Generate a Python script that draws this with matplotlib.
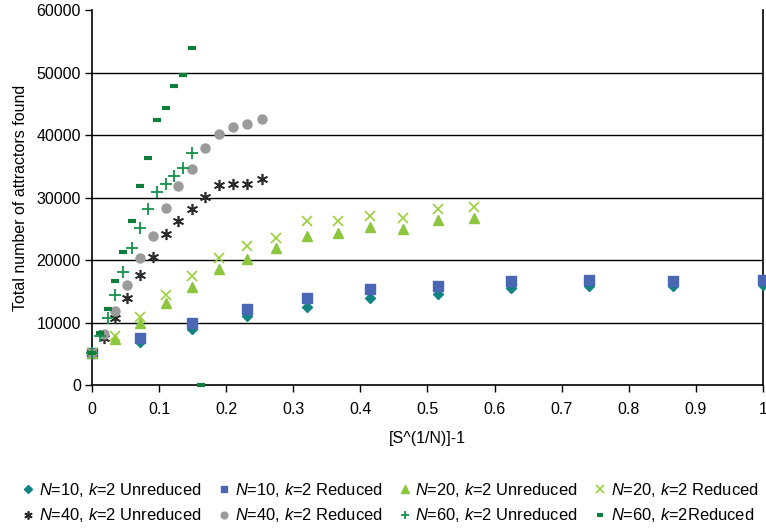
import matplotlib
matplotlib.use("Agg")
import matplotlib.pyplot as plt

plt.rcParams['font.family'] = ['Liberation Sans', 'DejaVu Sans']
plt.rcParams['mathtext.fontset'] = 'custom'
plt.rcParams['mathtext.rm'] = 'Liberation Sans'
plt.rcParams['mathtext.it'] = 'Liberation Sans:italic'

# --- data ---
x_n10 = [0, 0.072, 0.149, 0.231, 0.320, 0.414, 0.516, 0.625, 0.741, 0.866, 1.0]
n10_unred = [5100, 6900, 9000, 11000, 12500, 14000, 14600, 15500, 15800, 15800, 16000]
n10_red = [5100, 7500, 10000, 12200, 13900, 15400, 15800, 16600, 16800, 16600, 16800]

x_n20 = [0, 0.035, 0.072, 0.110, 0.149, 0.189, 0.231, 0.275, 0.320, 0.366,
         0.414, 0.464, 0.516, 0.569]
n20_unred = [5100, 7300, 10000, 13100, 15700, 18500, 20200, 21900, 23900, 24400,
             25300, 24900, 26400, 26800]
n20_red = [5100, 7800, 10900, 14400, 17500, 20300, 22200, 23600, 26200, 26200,
           27000, 26800, 28100, 28500]

x_n40 = [0, 0.0175, 0.035, 0.053, 0.072, 0.091, 0.110, 0.129, 0.149, 0.169,
         0.189, 0.210, 0.231, 0.253]
n40_unred = [5100, 7500, 10700, 13900, 17600, 20500, 24100, 26300, 28100, 30100,
             32000, 32100, 32100, 33000]
n40_red = [5100, 8200, 11800, 16000, 20300, 23900, 28400, 31800, 34500, 37900,
           40100, 41300, 41800, 42600]

x_n60 = [0, 0.0116, 0.0234, 0.035, 0.047, 0.060, 0.072, 0.084, 0.097, 0.110,
         0.123, 0.136, 0.149]
n60_unred = [5100, 7800, 10700, 14400, 18100, 21900, 25100, 28100, 30900, 32200,
             33400, 34700, 37200]
x_n60r = [0, 0.0116, 0.0234, 0.035, 0.047, 0.060, 0.072, 0.084, 0.097, 0.110,
          0.123, 0.136, 0.149, 0.162]
n60_red = [5100, 8300, 12100, 16700, 21300, 26300, 31800, 36300, 42400, 44400,
           47800, 49600, 54000, 0]

y_ticks = [0, 10000, 20000, 30000, 40000, 50000, 60000]
x_ticks = [0, 0.1, 0.2, 0.3, 0.4, 0.5, 0.6, 0.7, 0.8, 0.9, 1.0]
x_tick_labels = ['0', '0.1', '0.2', '0.3', '0.4', '0.5', '0.6', '0.7', '0.8', '0.9', '1']

fig = plt.figure(figsize=(7.66, 5.29), dpi=100)
ax = fig.add_axes([0.120, 0.272, 0.876, 0.709])

series = [
    (x_n10, n10_unred, dict(marker='D', color='#128483', ms=5.2), r'$\it{N}$=10, $\it{k}$=2 Unreduced'),
    (x_n10, n10_red, dict(marker='s', color='#4A67B3', ms=6.5), r'$\it{N}$=10, $\it{k}$=2 Reduced'),
    (x_n20, n20_unred, dict(marker='^', color='#8CC63F', ms=7.5), r'$\it{N}$=20, $\it{k}$=2 Unreduced'),
    (x_n20, n20_red, dict(marker='x', color='#99D03A', ms=7, mew=1.2), r'$\it{N}$=20, $\it{k}$=2 Reduced'),
    (x_n40, n40_unred, dict(marker=(6, 2, 0), color='#2B2B2B', ms=8, mew=1.2), r'$\it{N}$=40, $\it{k}$=2 Unreduced'),
    (x_n40, n40_red, dict(marker='o', color='#9B9B9B', ms=6.5), r'$\it{N}$=40, $\it{k}$=2 Reduced'),
    (x_n60, n60_unred, dict(marker='+', color='#16924A', ms=8, mew=1.3), r'$\it{N}$=60, $\it{k}$=2 Unreduced'),
    (x_n60r, n60_red, dict(marker='_', color='#0F7F3E', ms=6, mew=3), r'$\it{N}$=60, $\it{k}$=2Reduced'),
]

handles = {}
for xs, ys, style, label in series:
    h, = ax.plot(xs, ys, linestyle='none', markeredgecolor=style['color'],
                 clip_on=False, zorder=3, label=label, **style)
    handles[label] = h

ax.set_xlim(0, 1)
ax.set_ylim(0, 60000)
ax.set_yticks(y_ticks)
ax.set_xticks(x_ticks)
ax.set_xticklabels(x_tick_labels)
for yv in y_ticks[1:-1]:
    ax.axhline(yv, color='black', lw=1, zorder=1)

ax.spines['top'].set_visible(False)
for side in ['left', 'bottom', 'right']:
    ax.spines[side].set_linewidth(1.2)
ax.tick_params(axis='both', labelsize=11.5, length=5, width=1, direction='out')
ax.tick_params(axis='y', pad=3)
ax.tick_params(axis='x', pad=7)

ax.set_xlabel('[S^(1/N)]-1', fontsize=11.5, labelpad=10)
ax.set_ylabel('Total number of attractors found', fontsize=11.5, labelpad=6)

order = [0, 4, 1, 5, 2, 6, 3, 7]
hl = [series[i] for i in order]
fig.legend([handles[s[3]] for s in hl], [s[3] for s in hl],
           loc='lower center', bbox_to_anchor=(0.51, -0.013), ncol=4, frameon=False,
           fontsize=11.9, handlelength=0.7, handletextpad=0.3, columnspacing=1.0,
           labelspacing=0.45, borderaxespad=0.3, markerscale=0.75)

fig.savefig('out.png', dpi=100)
